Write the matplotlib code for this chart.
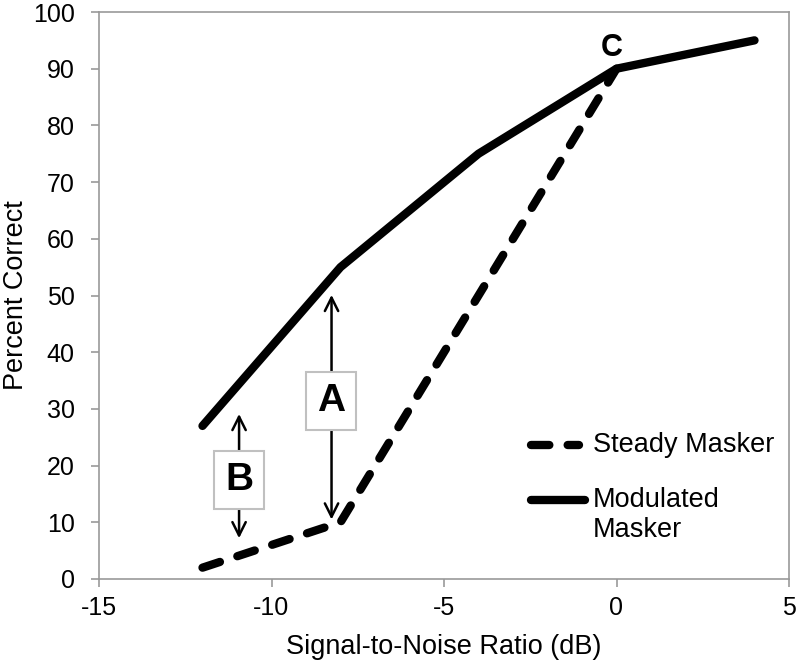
import matplotlib.pyplot as plt
from matplotlib.lines import Line2D

plt.rcParams['font.family'] = ['Liberation Sans', 'DejaVu Sans']
plt.rcParams['axes.unicode_minus'] = False

# data
snr = [-12, -8, -4, 0, 4]
steady_x = [-12, -8, 0]
steady = [2, 10, 90]
modulated = [27, 55, 75, 90, 95]

fig = plt.figure(figsize=(7.98, 6.64), dpi=100)
ax = fig.add_axes([99 / 798, 1 - 579 / 664, 690 / 798, 567 / 664])

dash = (0, (2.2, 2.2))
ax.plot(steady_x, steady, color='black', lw=6, ls=dash,
        solid_capstyle='round', dash_capstyle='round')
ax.plot(snr, modulated, color='black', lw=6, solid_capstyle='round',
        solid_joinstyle='round')

ax.set_xlim(-15, 5)
ax.set_ylim(0, 100)
ax.set_xticks([-15, -10, -5, 0, 5])
ax.set_yticks(range(0, 101, 10))
for s in ax.spines.values():
    s.set_color('#999999')
    s.set_linewidth(1.2)
ax.tick_params(colors='#999999', labelcolor='black', labelsize=18,
               width=1.2, length=5.5)
ax.tick_params(axis='y', pad=12)
ax.tick_params(axis='x', pad=7)
ax.set_xlabel('Signal-to-Noise Ratio (dB)', fontsize=19.5, labelpad=10)
ax.set_ylabel('Percent Correct', fontsize=19.5, labelpad=3)

arrow = dict(arrowstyle='<->', color='black', lw=1.8, mutation_scale=24)
ax.annotate('', xy=(-8.26, 50.6), xytext=(-8.26, 10), arrowprops=arrow)
ax.annotate('', xy=(-10.94, 29.6), xytext=(-10.94, 6.7), arrowprops=arrow)

box = dict(boxstyle='square,pad=0.28', fc='white', ec='#c0c0c0', lw=1.5)
ax.text(-8.28, 31.4, 'A', fontsize=28, fontweight='bold', ha='center',
        va='center', bbox=box)
ax.text(-10.94, 17.5, 'B', fontsize=28, fontweight='bold', ha='center',
        va='center', bbox=box)
ax.text(-0.13, 93.6, 'C', fontsize=22, fontweight='bold', ha='center',
        va='center')

# legend drawn by hand so the solid handle sits on the first text line
ax.add_line(Line2D([0.626, 0.695], [0.236, 0.236], transform=ax.transAxes,
                   color='black', lw=6, ls=dash, dash_capstyle='round'))
ax.add_line(Line2D([0.626, 0.705], [0.139, 0.139], transform=ax.transAxes,
                   color='black', lw=6, solid_capstyle='round'))
ax.text(0.716, 0.236, 'Steady Masker', transform=ax.transAxes, fontsize=19.5,
        va='center', ha='left')
ax.text(0.716, 0.139, 'Modulated', transform=ax.transAxes, fontsize=19.5,
        va='center', ha='left')
ax.text(0.716, 0.086, 'Masker', transform=ax.transAxes, fontsize=19.5,
        va='center', ha='left')

fig.savefig('out.png', dpi=100)
